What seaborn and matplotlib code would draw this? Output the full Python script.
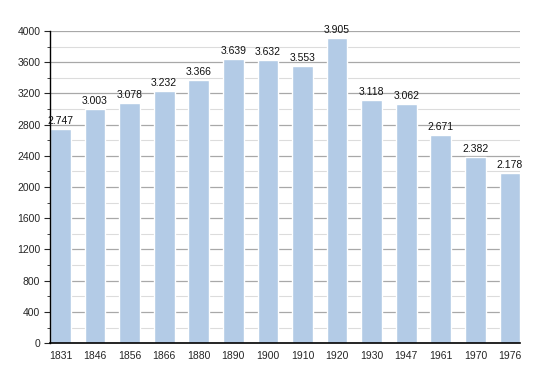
import matplotlib
matplotlib.use("Agg")
import matplotlib.pyplot as plt
from matplotlib.ticker import MultipleLocator
import seaborn as sns
import pandas as pd

years = ["1831", "1846", "1856", "1866", "1880", "1890", "1900",
         "1910", "1920", "1930", "1947", "1961", "1970", "1976"]
population = [2747, 3003, 3078, 3232, 3366, 3639, 3632,
              3553, 3905, 3118, 3062, 2671, 2382, 2178]

sns.set_style("white")
plt.rcParams['font.family'] = ['Liberation Sans', 'DejaVu Sans']

df = pd.DataFrame({"year": years, "pop": population})

fig = plt.figure(figsize=(5.5, 3.73), dpi=100)
ax = fig.add_axes([0.091, 0.080, 0.855, 0.837])

sns.barplot(data=df, x="year", y="pop", color="#b3cbe6", saturation=1,
            width=0.6, ax=ax, zorder=2)

ax.set_xlim(-0.3, 13.3)
ax.set_ylim(0, 4000)
ax.yaxis.set_major_locator(MultipleLocator(400))
ax.yaxis.set_minor_locator(MultipleLocator(200))
ax.grid(axis="y", which="major", color="#a8a8a8", linewidth=0.9, zorder=0)
ax.grid(axis="y", which="minor", color="#dcdcdc", linewidth=0.8, zorder=0)
ax.set_axisbelow(True)

for i, v in enumerate(population):
    ax.text(i, v + 40, f"{v // 1000}.{v % 1000:03d}", ha="center", va="bottom",
            fontsize=7.5, color="#111111")

ax.set_xlabel("")
ax.set_ylabel("")
for s in ["top", "right"]:
    ax.spines[s].set_visible(False)
ax.spines["left"].set_color("black")
ax.spines["bottom"].set_color("black")
ax.spines["left"].set_linewidth(1.0)
ax.spines["bottom"].set_linewidth(1.2)
ax.tick_params(axis="y", which="major", left=True, length=4, width=0.8,
               labelsize=7.5, pad=3)
ax.tick_params(axis="y", which="minor", left=True, length=2, width=0.6)
ax.tick_params(axis="x", bottom=False, labelsize=7.5, pad=2)

fig.savefig("out.png", dpi=100)
